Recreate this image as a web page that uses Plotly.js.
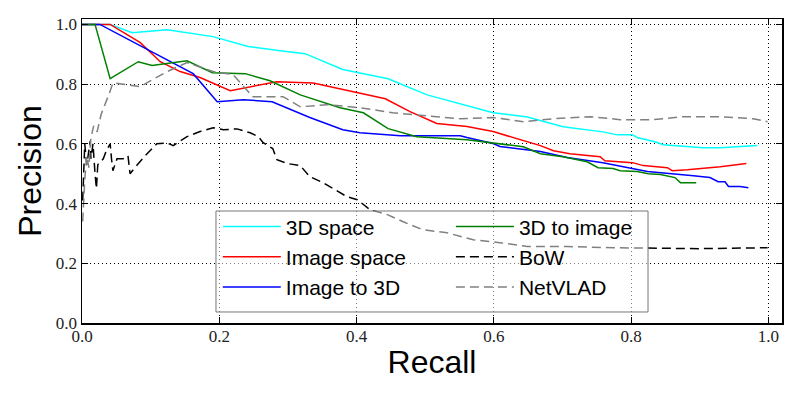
<!DOCTYPE html>
<html>
<head>
<meta charset="utf-8">
<script src="https://cdn.plot.ly/plotly-3.0.1.min.js"></script>
<style>html,body{margin:0;padding:0;background:#fff;}#chart{width:800px;height:400px;}</style>
</head>
<body>
<div id="chart"></div>
<script>
// 3D space (cyan)
const space3dX = [0, 0.041, 0.073, 0.124, 0.191, 0.242, 0.289, 0.325, 0.380, 0.446, 0.503, 0.561, 0.599, 0.649, 0.701, 0.759, 0.780, 0.802, 0.810, 0.835, 0.847, 0.905, 0.930, 0.984];
const space3dY = [1.0, 1.0, 0.972, 0.982, 0.959, 0.926, 0.912, 0.902, 0.849, 0.818, 0.764, 0.727, 0.704, 0.690, 0.657, 0.640, 0.630, 0.630, 0.620, 0.607, 0.597, 0.587, 0.587, 0.594];
// Image space (red)
const imgSpaceX = [0, 0.041, 0.085, 0.114, 0.143, 0.172, 0.216, 0.284, 0.337, 0.395, 0.442, 0.478, 0.517, 0.561, 0.599, 0.668, 0.687, 0.711, 0.755, 0.762, 0.802, 0.818, 0.853, 0.860, 0.882, 0.930, 0.968];
const imgSpaceY = [1.0, 1.0, 0.939, 0.875, 0.842, 0.822, 0.778, 0.808, 0.804, 0.774, 0.751, 0.708, 0.668, 0.658, 0.641, 0.594, 0.577, 0.567, 0.557, 0.543, 0.537, 0.527, 0.520, 0.510, 0.513, 0.523, 0.534];
// Image to 3D (blue)
const img2dX = [0, 0.026, 0.162, 0.197, 0.235, 0.277, 0.332, 0.380, 0.405, 0.464, 0.551, 0.561, 0.599, 0.609, 0.668, 0.707, 0.759, 0.824, 0.891, 0.915, 0.927, 0.937, 0.942, 0.959, 0.971];
const img2dY = [1.0, 1.0, 0.835, 0.741, 0.748, 0.741, 0.688, 0.647, 0.637, 0.627, 0.627, 0.621, 0.601, 0.591, 0.574, 0.554, 0.537, 0.507, 0.493, 0.487, 0.473, 0.473, 0.457, 0.457, 0.453];
// 3D to image (green)
const d3ToImgX = [0, 0.019, 0.041, 0.082, 0.102, 0.153, 0.190, 0.238, 0.274, 0.318, 0.376, 0.410, 0.446, 0.488, 0.561, 0.599, 0.643, 0.668, 0.701, 0.736, 0.752, 0.774, 0.784, 0.809, 0.825, 0.843, 0.864, 0.872, 0.882, 0.895];
const d3ToImgY = [1.0, 1.0, 0.818, 0.875, 0.862, 0.878, 0.838, 0.835, 0.811, 0.764, 0.721, 0.704, 0.651, 0.624, 0.614, 0.604, 0.590, 0.567, 0.557, 0.540, 0.520, 0.517, 0.510, 0.507, 0.500, 0.497, 0.487, 0.470, 0.470, 0.470];
// BoW (black dashed)
const bowX = [0.001, 0.004, 0.007, 0.012, 0.013, 0.016, 0.019, 0.021, 0.023, 0.031, 0.036, 0.041, 0.043, 0.045, 0.051, 0.060, 0.067, 0.070, 0.077, 0.092, 0.109, 0.124, 0.133, 0.153, 0.172, 0.191, 0.206, 0.226, 0.245, 0.257, 0.264, 0.278, 0.284, 0.299, 0.318, 0.332, 0.351, 0.369, 0.386, 0.401, 0.420, 0.445, 0.468, 0.497, 0.532, 0.570, 0.609, 0.649, 0.707, 0.774, 0.901, 0.999];
const bowY = [0.41, 0.60, 0.53, 0.61, 0.55, 0.60, 0.50, 0.45, 0.53, 0.55, 0.58, 0.60, 0.55, 0.51, 0.55, 0.55, 0.56, 0.50, 0.52, 0.56, 0.60, 0.603, 0.594, 0.624, 0.641, 0.654, 0.647, 0.650, 0.637, 0.624, 0.604, 0.584, 0.547, 0.534, 0.527, 0.490, 0.470, 0.446, 0.423, 0.413, 0.379, 0.363, 0.339, 0.312, 0.302, 0.279, 0.269, 0.256, 0.256, 0.252, 0.249, 0.252];
// NetVLAD (gray dashed)
const netvladX = [0.001, 0.004, 0.007, 0.010, 0.013, 0.017, 0.022, 0.028, 0.040, 0.045, 0.066, 0.085, 0.095, 0.124, 0.153, 0.191, 0.220, 0.249, 0.293, 0.318, 0.357, 0.405, 0.453, 0.512, 0.551, 0.599, 0.643, 0.687, 0.741, 0.784, 0.832, 0.876, 0.930, 0.978, 0.999];
const netvladY = [0.34, 0.48, 0.56, 0.52, 0.62, 0.66, 0.64, 0.70, 0.77, 0.804, 0.798, 0.791, 0.805, 0.842, 0.872, 0.842, 0.832, 0.758, 0.758, 0.724, 0.731, 0.721, 0.704, 0.691, 0.684, 0.688, 0.674, 0.684, 0.691, 0.681, 0.681, 0.691, 0.691, 0.684, 0.674];

const xTicks = [0.0, 0.2, 0.4, 0.6, 0.8, 1.0];
const yTicks = [0.0, 0.2, 0.4, 0.6, 0.8, 1.0];

function tr(x, y, name, color, dash, leg) {
  return {x: x, y: y, name: name, type: 'scatter', mode: 'lines', legend: leg,
    line: {color: color, width: 1.5, dash: dash || 'solid'}};
}
const data = [
  tr(space3dX, space3dY, '3D space', '#00ffff', null, 'legend'),
  tr(imgSpaceX, imgSpaceY, 'Image space', '#ff0000', null, 'legend'),
  tr(img2dX, img2dY, 'Image to 3D', '#0000ff', null, 'legend'),
  tr(d3ToImgX, d3ToImgY, '3D to image', '#008000', null, 'legend2'),
  tr(bowX, bowY, 'BoW', '#000000', '9px,5px', 'legend2'),
  tr(netvladX, netvladY, 'NetVLAD', '#808080', '9px,5px', 'legend2')
];

const axisCommon = {
  showline: true, linecolor: '#000', linewidth: 1.5, mirror: 'ticks',
  ticks: 'inside', ticklen: 6, tickcolor: '#000', tickwidth: 1,
  showgrid: true, gridcolor: '#000', gridwidth: 1, griddash: '1px,3px',
  zeroline: false, tickformat: '.1f',
  tickfont: {family: 'Liberation Serif, serif', size: 17, color: '#222'}
};

const legendCommon = {
  orientation: 'v', xanchor: 'left', yanchor: 'top',
  bgcolor: 'rgba(0,0,0,0)', borderwidth: 0,
  font: {family: 'Liberation Sans, Arial, sans-serif', size: 21, color: '#000'},
  itemwidth: 58, tracegroupgap: 0
};

const layout = {
  width: 800, height: 400,
  margin: {l: 82, r: 18, t: 19, b: 77},
  paper_bgcolor: '#fff', plot_bgcolor: '#fff',
  showlegend: true,
  xaxis: Object.assign({}, axisCommon, {
    range: [0, 1.02], tickvals: xTicks, ticklabelstandoff: -3,
    title: {text: 'Recall', font: {family: 'Liberation Sans, Arial, sans-serif', size: 32, color: '#000'}, standoff: 5}
  }),
  yaxis: Object.assign({}, axisCommon, {
    range: [0, 1.018], tickvals: yTicks,
    title: {text: 'Precision', font: {family: 'Liberation Sans, Arial, sans-serif', size: 32, color: '#000'}, standoff: 4}
  }),
  legend: Object.assign({}, legendCommon, {x: 0.194, y: 0.384}),
  legend2: Object.assign({}, legendCommon, {x: 0.527, y: 0.384}),
  shapes: [{
    type: 'rect', xref: 'paper', yref: 'paper', layer: 'above',
    x0: 0.1914, x1: 0.8086, y0: 0.0362, y1: 0.3684,
    fillcolor: 'rgba(255,255,255,0.5)', line: {color: '#777', width: 1}
  }]
};

Plotly.newPlot('chart', data, layout, {displayModeBar: false, staticPlot: true});
</script>
</body>
</html>
